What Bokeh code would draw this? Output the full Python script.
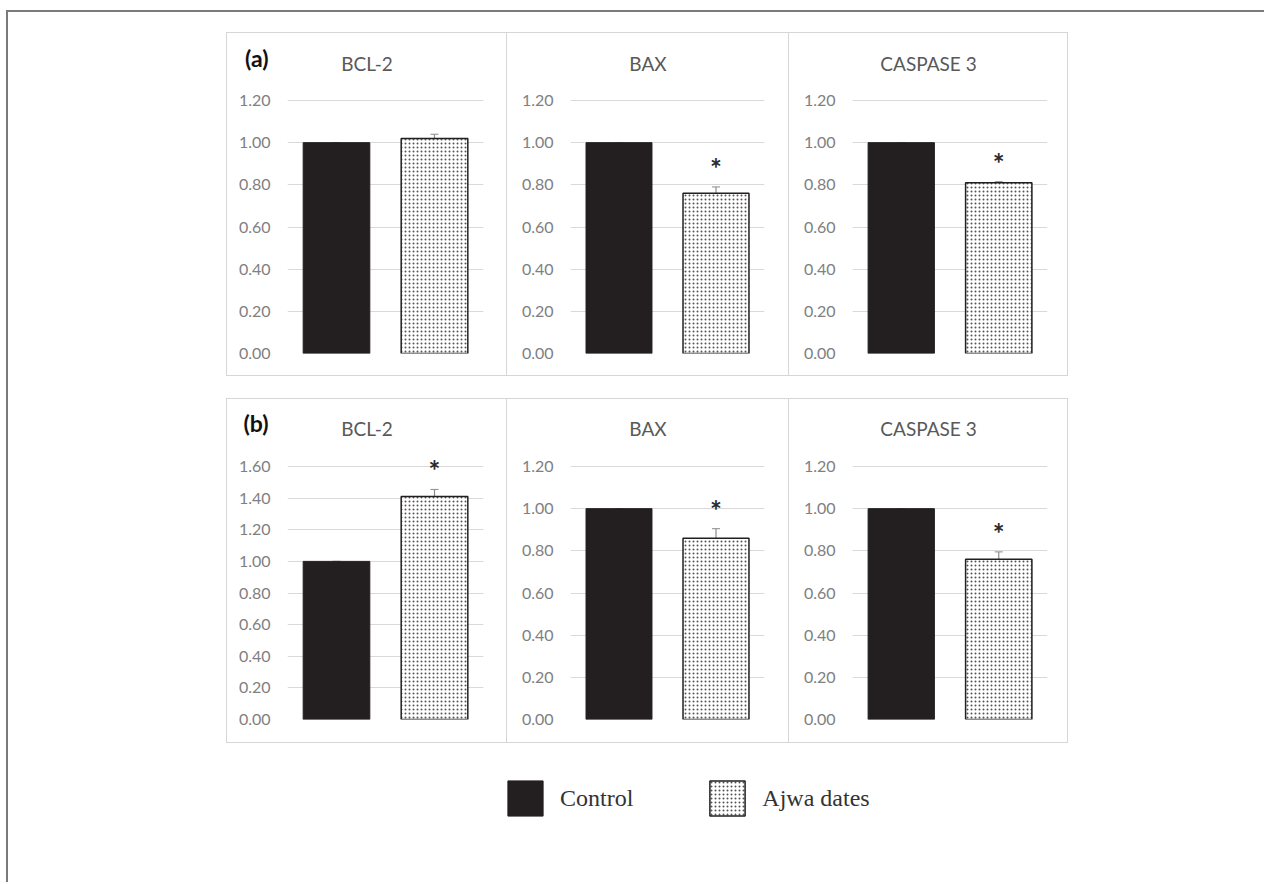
from bokeh.plotting import figure
from bokeh.layouts import row, column
from bokeh.models import (Spacer, Range1d, FactorRange, FixedTicker, NumeralTickFormatter,
                          ColumnDataSource, Whisker, LabelSet, Legend, LegendItem)
from bokeh.core.properties import value
from bokeh.embed import file_html
from bokeh.resources import INLINE

# ---------------- data ----------------
groups = ["Control", "Ajwa dates"]
genes = ["BCL-2", "BAX", "CASPASE 3"]
panel_tags = ["(a)", "(b)"]

a_control = [1.00, 1.00, 1.00]
a_control_err = [0.0, 0.0, 0.0]
a_ajwa = [1.02, 0.76, 0.81]
a_ajwa_err = [0.02, 0.03, 0.005]
a_sig = [False, True, True]

b_control = [1.00, 1.00, 1.00]
b_control_err = [0.0, 0.0, 0.0]
b_ajwa = [1.41, 0.86, 0.76]
b_ajwa_err = [0.045, 0.045, 0.035]
b_sig = [True, True, True]

a_ticks = [0.0, 0.2, 0.4, 0.6, 0.8, 1.0, 1.2]
b_ticks_bcl = [0.0, 0.2, 0.4, 0.6, 0.8, 1.0, 1.2, 1.4, 1.6]

# ---------------- style / layout ----------------
CTRL_COLOR = "#231f20"
GRID = "#d9d9d9"
TICK_COLOR = "#808080"
TITLE_COLOR = "#595959"
FONT = "Lato"
BORDER = "#d6d6d6"
FRAME = "#7a7a7a"

col_widths = [279, 281, 278]
col_bl = [60, 63, 63]
col_br = [23, 24, 20]
row_heights = [342, 343]
row_bb = [22, 23]
HEADER_H = 44
TICK_SPAN_PX = 253          # pixel height between 0 and the top tick
tag_y = [20, 20.5]
title_y = [14, 15]
LEFT_PAD = 218


def make_panel(r, c, tag, gene, ctrl, ctrl_err, ajwa, ajwa_err, sig, ticks):
    w, h = col_widths[c], row_heights[r]
    bl, br, bb = col_bl[c], col_br[c], row_bb[r]

    # header strip (its frame is aligned with the body frame by the column)
    hd = figure(width=w, height=HEADER_H, x_range=Range1d(bl, w - br),
                y_range=Range1d(0, HEADER_H), output_backend="svg", toolbar_location=None,
                min_border_left=bl, min_border_right=br, min_border_top=0,
                min_border_bottom=0)
    hd.title.visible = False
    hd.xaxis.visible = False
    hd.grid.visible = False
    hd.outline_line_color = None
    hd.text(x=[w / 2], y=[title_y[r]], text=[gene], text_align="center",
            text_baseline="middle", text_font=value(FONT), text_font_size="19px",
            text_color=TITLE_COLOR)
    hax = hd.yaxis[0]
    if c == 0:
        hax.ticker = FixedTicker(ticks=[tag_y[r]])
        hax.major_label_overrides = {tag_y[r]: tag}
        hax.axis_line_color = None
        hax.major_tick_line_color = None
        hax.minor_tick_line_color = None
        hax.major_tick_out = 0
        hax.major_tick_in = 0
        hax.major_label_standoff = 19
        hax.major_label_text_font = FONT
        hax.major_label_text_font_size = "23px"
        hax.major_label_text_font_style = "bold"
        hax.major_label_text_color = "#111111"
    else:
        hax.visible = False

    body_h = h - HEADER_H
    fh = body_h - bb
    y_end = ticks[-1] * fh / TICK_SPAN_PX
    p = figure(width=w, height=body_h, x_range=FactorRange(*groups),
               y_range=Range1d(0, y_end), output_backend="svg",
               toolbar_location=None, min_border_left=bl, min_border_right=br,
               min_border_top=0, min_border_bottom=bb,
               background_fill_color="white", border_fill_color="white")
    p.title.visible = False
    p.outline_line_color = None
    p.xaxis.visible = False
    p.xgrid.visible = False
    p.ygrid.grid_line_color = GRID
    p.ygrid.grid_line_width = 1
    ax = p.yaxis[0]
    ax.ticker = FixedTicker(ticks=ticks)
    ax.formatter = NumeralTickFormatter(format="0.00")
    ax.axis_line_color = None
    ax.major_tick_line_color = None
    ax.minor_tick_line_color = None
    ax.major_tick_out = 0
    ax.major_tick_in = 0
    ax.major_label_standoff = 17
    ax.major_label_text_font = FONT
    ax.major_label_text_font_size = "16px"
    ax.major_label_text_color = TICK_COLOR

    cs = ColumnDataSource(dict(g=[groups[0]], v=[ctrl], lo=[ctrl - ctrl_err], hi=[ctrl + ctrl_err]))
    js = ColumnDataSource(dict(g=[groups[1]], v=[ajwa], lo=[ajwa - ajwa_err], hi=[ajwa + ajwa_err]))
    p.vbar(x="g", top="v", width=0.68, source=cs, fill_color=CTRL_COLOR,
           line_color=CTRL_COLOR, line_width=1)
    p.vbar(x="g", top="v", width=0.68, source=js, fill_color="white",
           line_color=CTRL_COLOR, line_width=1.5, hatch_pattern="dot",
           hatch_scale=4, hatch_color="#555555", hatch_weight=1)
    for s in (cs, js):
        wk = Whisker(source=s, base="g", upper="hi", lower="lo",
                     line_color="#8c8c8c", line_width=1.2)
        wk.upper_head.size = 8
        wk.lower_head.size = 8
        wk.upper_head.line_color = "#8c8c8c"
        wk.lower_head.line_color = "#8c8c8c"
        p.add_layout(wk)
    if sig:
        ss = ColumnDataSource(dict(g=[groups[1]], y=[ajwa + ajwa_err], t=["*"]))
        p.add_layout(LabelSet(source=ss, x="g", y="y", text="t", y_offset=8,
                              text_align="center", text_baseline="alphabetic",
                              text_font=value(FONT), text_font_size="28px",
                              text_font_style="bold", text_color="#2b2b2b"))
    return column(hd, p)


def vline(h):
    return Spacer(width=1, height=h, styles={"background-color": BORDER})


def hline():
    return row(Spacer(width=LEFT_PAD, height=1),
               Spacer(width=sum(col_widths) + 4, height=1, styles={"background-color": BORDER}))


def panel_row(r, panels):
    h = row_heights[r]
    return row(Spacer(width=LEFT_PAD, height=h), vline(h), panels[0], vline(h),
               panels[1], vline(h), panels[2], vline(h))


row_a = [make_panel(0, i, panel_tags[0], genes[i], a_control[i], a_control_err[i],
                    a_ajwa[i], a_ajwa_err[i], a_sig[i], a_ticks) for i in range(3)]
row_b = [make_panel(1, i, panel_tags[1], genes[i], b_control[i], b_control_err[i],
                    b_ajwa[i], b_ajwa_err[i], b_sig[i], b_ticks_bcl if i == 0 else a_ticks)
         for i in range(3)]

# ---------------- legend ----------------
LW, LH = 1240, 130
lg = figure(width=LW, height=LH, x_range=Range1d(0, 1), y_range=Range1d(0, 1),
            output_backend="svg", toolbar_location=None, min_border=0)
lg.title.visible = False
lg.axis.visible = False
lg.grid.visible = False
lg.outline_line_color = None
r1 = lg.vbar(x=[5], top=[0], width=0.1, fill_color=CTRL_COLOR, line_color=CTRL_COLOR)
r2 = lg.vbar(x=[5], top=[0], width=0.1, fill_color="white", line_color=CTRL_COLOR,
             line_width=1.5, hatch_pattern="dot", hatch_scale=4, hatch_color="#555555",
             hatch_weight=1)
legend = Legend(items=[LegendItem(label=groups[0], renderers=[r1]),
                       LegendItem(label=groups[1], renderers=[r2])],
                orientation="horizontal", location=(495, 53),
                glyph_width=44, glyph_height=44, label_standoff=13, spacing=72,
                padding=0, margin=0, border_line_color=None, background_fill_alpha=0,
                label_text_font="Liberation Serif", label_text_font_size="24px",
                label_text_color="#333333")
lg.add_layout(legend)

# ---------------- page layout ----------------
left_col = column(Spacer(width=2, height=10),
                  Spacer(width=2, height=872, styles={"background-color": FRAME}))
main = column(Spacer(width=LW, height=10),
              Spacer(width=1256, height=2, styles={"background-color": FRAME}),
              Spacer(width=LW, height=20),
              hline(),
              panel_row(0, row_a),
              hline(),
              Spacer(width=LW, height=22),
              hline(),
              panel_row(1, row_b),
              hline(),
              lg)
page = row(Spacer(width=6, height=10), left_col, main)

open("out.html", "w").write(file_html(page, INLINE))
